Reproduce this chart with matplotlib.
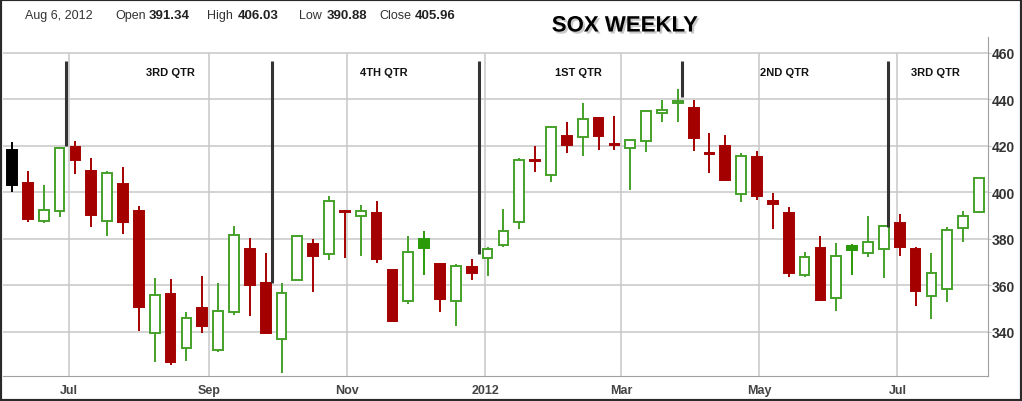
import matplotlib
matplotlib.use("Agg")
import matplotlib.pyplot as plt
import matplotlib.dates as mdates
import matplotlib.patheffects as pe
from matplotlib.patches import Rectangle
import pandas as pd

# weekly SOX candles, Jun 6 2011 .. Aug 6 2012
weeks = pd.date_range("2011-06-06", periods=62, freq="7D")

opens = [418, 404, 387.5, 392, 419.3, 409, 387.7, 403.5, 391.8, 339.4,
         356.2, 333, 350.2, 332.3, 348.3, 375.6, 361, 337, 362.2, 377.6,
         373.4, 391.3, 389.9, 391, 366.7, 353.3, 379.9, 369.1, 353.3, 367.7,
         371.6, 377.4, 387, 413.5, 407.4, 424, 423.6, 431.8, 420.4, 418.9,
         421.9, 434.1, 438.5, 436.3, 416.4, 419.7, 399.2, 415, 396.2, 391.1,
         364.5, 376, 354.5, 377, 373.7, 375.6, 386.8, 375.6, 355.2, 358.4,
         384.5, 391.34]
highs = [421.5, 409, 403, 419.5, 422, 414.6, 409.2, 411, 394.2, 363,
         362.7, 348.6, 363.8, 361, 385.6, 380.3, 373.8, 361, 381.5, 380,
         398.5, 392.5, 394.6, 396, 367, 381, 383.2, 369.5, 369, 371.3,
         376.5, 392.8, 414.5, 420, 428.5, 430, 438.4, 432.2, 432.9, 423,
         435.5, 439.8, 444.4, 439.8, 425.5, 424.7, 416.9, 417.8, 399.7, 393.8,
         374.4, 381, 378.2, 377.7, 389.9, 386, 390.6, 376.6, 373.7, 384.9,
         392, 406.03]
lows = [400, 387, 386.6, 389.2, 407.8, 384.9, 381.3, 382, 340.4, 327.1,
        325.7, 327.3, 339.4, 331.1, 347.2, 346.9, 339, 322.2, 362, 357,
        371, 371.6, 372.7, 369.5, 344.5, 351.9, 364.5, 348.6, 342.6, 362.4,
        364, 376.3, 384.2, 408.8, 404.2, 416.9, 415.4, 418.3, 418.3, 401.1,
        417.1, 430, 430.3, 417.6, 408.3, 405, 395.7, 396.8, 384.2, 363.4,
        363.4, 353.3, 349, 364.5, 372, 363.1, 372.7, 350.9, 345.5, 352.6,
        378.7, 390.88]
closes = [403, 388.5, 392.5, 419, 413.8, 390.2, 408.3, 387, 350.5, 355.8,
          327.1, 346, 342.2, 348.8, 381.7, 360.2, 339.4, 356.6, 381, 372.7,
          396.3, 391.6, 391.9, 371.3, 344.7, 374.4, 375.9, 354.1, 368.4, 365.2,
          375.6, 383.4, 414, 413.8, 427.9, 420.3, 431.5, 424, 420.6, 422.5,
          434.8, 435.5, 438.7, 423.3, 416.6, 405.4, 415.7, 398.2, 394.9, 365.2,
          372.3, 353.8, 372.7, 375.3, 378.7, 385.6, 376.3, 357.6, 365.1, 383.9,
          389.6, 405.96]

# quarter markers
qtr_lines = pd.to_datetime(["2011-06-30", "2011-09-29", "2011-12-29",
                            "2012-03-28", "2012-06-27"])
qtr_line_bottoms = [420, 361, 373.4, 441, 384.9]
qtr_labels = ["3RD QTR", "4TH QTR", "1ST QTR", "2ND QTR", "3RD QTR"]
qtr_label_dates = pd.to_datetime(["2011-08-15", "2011-11-17", "2012-02-11",
                                  "2012-05-12", "2012-07-18"])

month_ticks = pd.to_datetime(["2011-07-01", "2011-09-01", "2011-11-01", "2012-01-01",
                              "2012-03-01", "2012-05-01", "2012-07-01"])
month_labels = ["Jul", "Sep", "Nov", "2012", "Mar", "May", "Jul"]

plt.rcParams["font.family"] = ["Liberation Sans", "DejaVu Sans"]

RED = "#a50000"
GREEN = "#45a02a"
GREEN_FILL = "#2a9a08"

fig = plt.figure(figsize=(10.22, 4.02), dpi=100)
ax = fig.add_axes([3 / 1022, 25 / 402, 985 / 1022, 339 / 402])

x = mdates.date2num(weeks)
ymin, ymax = 320.9, 466.75

ax.set_xlim(x[0] - 4, x[-1] + 4)
ax.set_ylim(ymin, ymax)

# grid
ax.set_yticks(range(340, 461, 20))
ax.grid(axis="y", color="#c8c8c8", lw=1.1, zorder=0)
ax.vlines(mdates.date2num(month_ticks), ymin, 460, color="#c8c8c8", lw=1.1, zorder=0)

for i in range(len(x)):
    o, h, l, c = opens[i], highs[i], lows[i], closes[i]
    if i == 0:
        col = "black"
    elif c >= closes[i - 1]:
        col = GREEN_FILL if c < o else GREEN
    else:
        col = RED
    filled = c < o
    ax.vlines(x[i], l, h, color=col, lw=1.4, zorder=2)
    ax.bar(x[i], max(abs(c - o), 0.5), width=4.3, bottom=min(o, c),
           facecolor=col if filled else "white", edgecolor=col, lw=1.4, zorder=3)

ax.vlines(mdates.date2num(qtr_lines), qtr_line_bottoms, 456.4, color="#333333", lw=2.2, zorder=4)
for d, lab in zip(qtr_label_dates, qtr_labels):
    ax.text(mdates.date2num(d), 451.7, lab, ha="center", va="center",
            fontsize=8, fontweight="bold", color="#111111")

ax.set_xticks(mdates.date2num(month_ticks))
ax.set_xticklabels(month_labels, fontsize=9, fontweight="bold", color="#444444")
ax.tick_params(axis="x", length=0, pad=6)
ax.yaxis.tick_right()
ax.tick_params(axis="y", length=2, color="#c8c8c8", pad=1, labelsize=10)
for t in ax.get_yticklabels():
    t.set_fontweight("bold")
    t.set_color("#333333")

for s in ["left", "top"]:
    ax.spines[s].set_visible(False)
for s in ["right", "bottom"]:
    ax.spines[s].set_color("#a0a0a0")

# header
def px(xp, yp):
    return xp / 1022, 1 - yp / 402

fig.text(*px(25, 16), "Aug 6, 2012", fontsize=9, color="#333333", va="center")
parts = [(115, "Open", 149, "391.34"), (207, "High", 238, "406.03"),
         (299, "Low", 327, "390.88"), (379, "Close", 415, "405.96")]
for x1, name, x2, val in parts:
    fig.text(*px(x1, 16), name, fontsize=9, color="#333333", va="center")
    fig.text(*px(x2, 16), val, fontsize=9.5, fontweight="bold", color="#222222", va="center")

fig.text(*px(625, 27), "SOX WEEKLY", fontsize=16, fontweight="bold", ha="center", va="center",
         path_effects=[pe.SimplePatchShadow(offset=(1.5, -1.5), shadow_rgbFace="#888888", alpha=0.45),
                       pe.Normal()])

fig.patches.append(Rectangle((0, 0), 1, 1, transform=fig.transFigure, fill=False,
                             edgecolor="#2a2a2a", lw=3))

plt.savefig("out.png", dpi=100)
